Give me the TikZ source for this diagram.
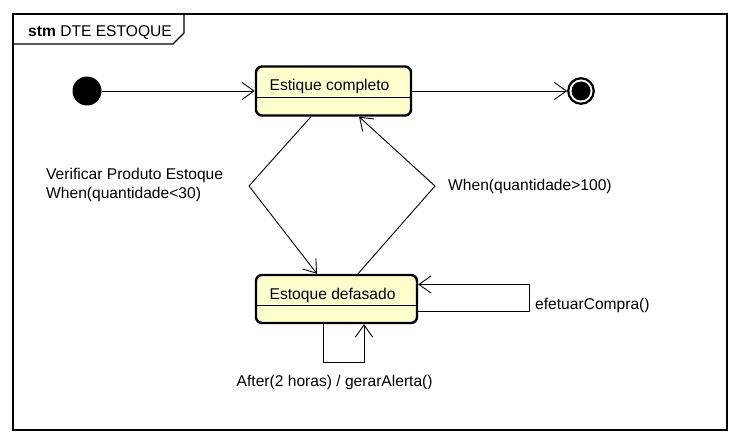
\documentclass[tikz,border=0pt]{standalone}
\usepackage{fontspec}
\setmainfont{Liberation Sans}
\usetikzlibrary{arrows.meta}
\definecolor{statefill}{RGB}{255,255,206}

\begin{document}
\begin{tikzpicture}[x=1pt, y=-1pt, font=\fontsize{15.6}{17.5}\selectfont,
	estado/.style={draw, line width=2.4pt, rounded corners=6pt, fill=statefill, inner sep=0pt},
	trans/.style={line width=0.9pt, -{Straight Barb[length=12pt,width=17pt,line width=0.9pt]}},
	rotulo/.style={inner sep=0pt, anchor=base west}]
	\useasboundingbox (0,0) rectangle (740,444);
	% frame and tab
	\draw[line width=1.1pt] (13,14) rectangle (727,430);
	\draw[line width=1.1pt] (13,44) -- (173,44) -- (184,33) -- (184,14);
	\node[rotulo] (titulo) at (28,36.5) {\textbf{stm} DTE ESTOQUE};
	% states
	\node[circle, fill=black, minimum size=29pt, inner sep=0pt] (inicio) at (87,91) {};
	\node[estado, minimum width=155pt, minimum height=49pt] (completo) at (333.5,91) {};
	\draw[line width=1pt] ([yshift=-6.5pt]completo.west) -- ([yshift=-6.5pt]completo.east);
	\node[rotulo] (completoTxt) at (269.5,91) {Estique completo};
	\node[estado, minimum width=161pt, minimum height=48pt] (defasado) at (336.5,299) {};
	\draw[line width=1pt] ([yshift=-6pt]defasado.west) -- ([yshift=-6pt]defasado.east);
	\node[rotulo] (defasadoTxt) at (269.5,299) {Estoque defasado};
	\node[circle, draw, line width=2.2pt, fill=white, minimum size=25.5pt, inner sep=0pt] (fim) at (581,91) {};
	\node[circle, fill=black, minimum size=19pt, inner sep=0pt] (fimPonto) at (fim) {};
	% transitions
	\coordinate (dobraEsq) at (249,186);
	\coordinate (dobraDir) at (435,186);
	\coordinate (lacoDir) at (529,284.5);
	\coordinate (lacoInf) at (323,362.5);
	\draw[trans] (inicio) -- (completo);
	\draw[trans] (completo) -- (fim);
	\draw[trans] ([xshift=-22.5pt]completo.south) -- (dobraEsq) -- ([xshift=-19.5pt]defasado.north);
	\draw[trans] ([xshift=21.5pt]defasado.north) -- (dobraDir) -- ([xshift=25.5pt]completo.south);
	\draw[trans] ([yshift=-12.5pt]defasado.east) -| (lacoDir) -- ([yshift=14.5pt]defasado.east);
	\draw[trans] ([xshift=-13.5pt]defasado.south) -- (lacoInf) -| ([xshift=27.5pt]defasado.south);
	% labels
	\node[rotulo] (verifTxt) at (46,179.5) {Verificar Produto Estoque};
	\node[rotulo] (menorTxt) at (46,198.5) {When(quantidade<30)};
	\node[rotulo] (maiorTxt) at (448,190.5) {When(quantidade>100)};
	\node[rotulo] (compraTxt) at (535,309) {efetuarCompra()};
	\node[rotulo] (alertaTxt) at (236.5,386.5) {After(2 horas) / gerarAlerta()};
\end{tikzpicture}
\end{document}
